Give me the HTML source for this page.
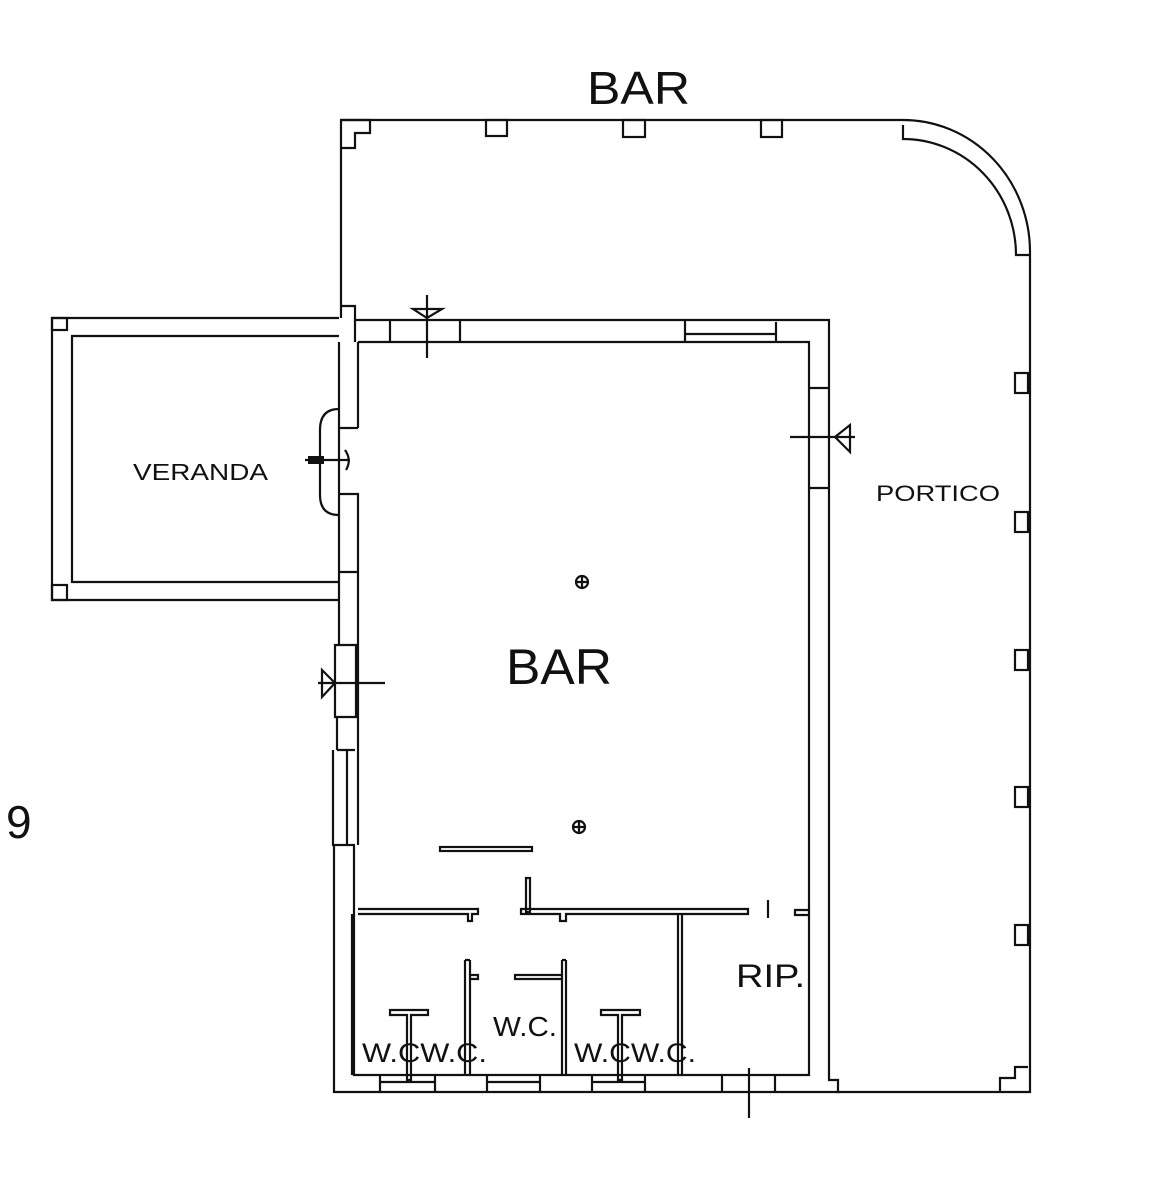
<!DOCTYPE html>
<html><head><meta charset="utf-8"><style>
html,body{margin:0;padding:0;background:#fff;}
svg{display:block;}
text{font-family:"Liberation Sans",sans-serif;fill:#111;}
</style></head><body>
<svg width="1156" height="1200" viewBox="0 0 1156 1200" xmlns="http://www.w3.org/2000/svg">
<g fill="none" stroke="#111" stroke-width="2.2" stroke-linejoin="miter">
<path d="M341,318 V120 H903 A127,132 0 0 1 1030,252 V1092 H836"/>
<path d="M341,120 H370 V133 H355 V148 H341"/>
<path d="M903,125 V139 A113,116 0 0 1 1016,255 H1030"/>
<rect x="486" y="120" width="21" height="16"/>
<rect x="623" y="120" width="22" height="17"/>
<rect x="761" y="120" width="21" height="17"/>
<rect x="1015" y="373" width="13" height="20"/>
<rect x="1015" y="512" width="13" height="20"/>
<rect x="1015" y="650" width="13" height="20"/>
<rect x="1015" y="787" width="13" height="20"/>
<rect x="1015" y="925" width="13" height="20"/>
<path d="M1028,1067 H1015 V1078 H1000 V1092"/>
<path d="M341,306 H355 V320 H829 V1080 H838 V1092 H334 V845"/>
<path d="M358,342 H809 V1075 H354 V845"/>
<path d="M355,320 V342"/>
<path d="M809,388 H829 M809,488 H829"/>
<path d="M390,320 V342 M460,320 V342"/>
<path d="M685,320 V342 M776,322 V342 M685,334 H776"/>
<path d="M339,342 V428 H358 M358,342 V428"/>
<path d="M339,494 H358 V572 M339,494 V645"/>
<path d="M339,572 H358"/>
<path d="M358,572 V645 H335 V717 H356 V645 M358,645 V845"/>
<path d="M337,717 V750 M337,750 H355 M333,750 V845 H355 M347,750 V845"/>
<path d="M339,409 Q320,409 320,430 V495 Q320,515 339,515"/>
<path d="M339,428 V494"/>
<path d="M339,318 H52 V600 H339"/>
<path d="M339,336 H72 V582 H339"/>
<rect x="52" y="318" width="15" height="12"/>
<rect x="52" y="585" width="15" height="15"/>
<rect x="440" y="847" width="92" height="4"/>
<rect x="526" y="878" width="4" height="34"/>
<path d="M358,909 H478 V914 H472 V921 H468 V914 H358"/>
<path d="M521,909 H748 V914 H566 V921 H560 V914 H521 Z"/>
<path d="M768,900 V918"/>
<path d="M809,910 H795 V915 H809"/>
<path d="M352,914 V1075"/>
<path d="M678,914 V1075 M682,914 V1075"/>
<path d="M465,960 V1075 M470,960 V1075 M465,960 H470 M470,975 H478 V979 H470"/>
<path d="M562,960 V1075 M566,960 V1075 M562,960 H566 M515,975 H562 V979 H515 Z"/>
<path d="M390,1010 H428 V1015 H411 V1080 H407 V1015 H390 Z"/>
<path d="M601,1010 H640 V1015 H622 V1080 H618 V1015 H601 Z"/>
<path d="M380,1075 V1092 M435,1075 V1092 M380,1082 H435"/>
<path d="M487,1075 V1092 M540,1075 V1092 M487,1082 H540"/>
<path d="M592,1075 V1092 M645,1075 V1092 M592,1082 H645"/>
<path d="M722,1075 V1092 M775,1075 V1092"/>
<path d="M427,295 V358 M413,309 H442 L427,318 Z"/>
<path d="M790,437 H855 M850,425 V452 L835,437 Z"/>
<path d="M318,683 H385 M322,670 V697 L335,683 Z"/>
<path d="M305,460 H350 M345,450 Q352,460 346,470"/>
<path d="M749,1068 V1118"/>
<circle cx="582" cy="582" r="6"/>
<path d="M576,582 H588 M582,576 V588"/>
<circle cx="579" cy="827" r="6"/>
<path d="M573,827 H585 M579,821 V833"/>
</g>
<rect x="308" y="456" width="16" height="8" fill="#111"/>
<text x="587" y="104" font-size="46" textLength="103" lengthAdjust="spacingAndGlyphs">BAR</text>
<text x="506" y="684" font-size="50" textLength="106" lengthAdjust="spacingAndGlyphs">BAR</text>
<text x="133" y="480" font-size="23" textLength="135" lengthAdjust="spacingAndGlyphs">VERANDA</text>
<text x="876" y="501" font-size="22" textLength="124" lengthAdjust="spacingAndGlyphs">PORTICO</text>
<text x="736" y="987" font-size="32" textLength="69" lengthAdjust="spacingAndGlyphs">RIP.</text>
<text x="493" y="1036" font-size="28" textLength="64" lengthAdjust="spacingAndGlyphs">W.C.</text>
<text x="362" y="1062" font-size="27" textLength="125" lengthAdjust="spacingAndGlyphs">W.CW.C.</text>
<text x="574" y="1062" font-size="27" textLength="122" lengthAdjust="spacingAndGlyphs">W.CW.C.</text>
<text x="6" y="838" font-size="46">9</text>
</svg>
</body></html>
